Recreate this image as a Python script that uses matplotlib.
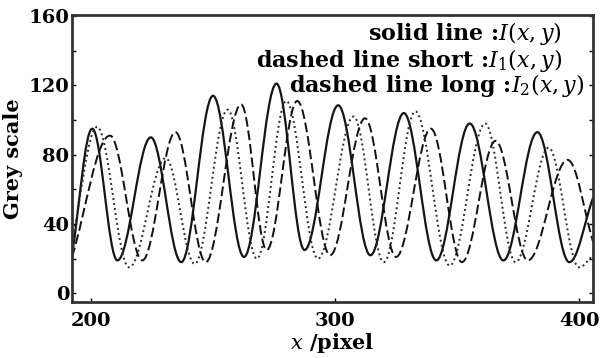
import matplotlib
matplotlib.use('Agg')
import matplotlib.pyplot as plt
from matplotlib.path import Path
from matplotlib.patches import PathPatch

plt.rcParams['font.family'] = ['DejaVu Serif']
plt.rcParams['mathtext.fontset'] = 'dejavuserif'

# turning points (peaks / troughs) of the three grey-scale profiles
i_x = [192.2, 200.5, 210.8, 224.5, 237.0, 250.0, 262.7, 276.0, 287.5,
       301.3, 314.5, 328.2, 341.5, 355.2, 369.0, 382.9, 396.0, 405.7]
i_y = [22, 95, 19, 90, 18, 114, 21, 121, 25,
       108.5, 22, 104, 19, 98, 19, 93, 18, 55]

i1_x = [192.2, 202.5, 215.6, 230.6, 242.5, 256.0, 268.0, 280.0, 293.0,
        307.6, 320.0, 332.9, 347.0, 361.5, 374.0, 387.5, 400.0, 405.7]
i1_y = [30, 96, 15, 78, 17, 106, 20, 111, 20,
        102, 18, 105, 16, 98, 18, 84, 15, 22]

i2_x = [192.2, 207.8, 221.0, 234.6, 247.0, 261.5, 272.0, 284.5, 298.0,
        312.3, 325.0, 339.3, 352.0, 365.8, 379.0, 395.3, 405.7]
i2_y = [21, 91, 19, 93, 18, 109, 25, 111, 22,
        101, 21, 95, 18, 88, 19, 77, 30]

legend_lines = ['solid line :$I(x,y)$',
                'dashed line short :$I_1(x,y)$',
                'dashed line long :$I_2(x,y)$']


def smooth_path(xs, ys):
    ''' cubic segments between turning points, flat at each extremum,
    following the chord at the two clipped ends '''
    verts = [(xs[0], ys[0])]
    codes = [Path.MOVETO]
    last = len(xs) - 1
    for i in range(1, len(xs)):
        x0, y0, x1, y1 = xs[i - 1], ys[i - 1], xs[i], ys[i]
        k = 0.36 * (x1 - x0)
        c0 = (x0 + k, y0) if i > 1 else (x0 + k, y0 + 0.36 * (y1 - y0))
        c1 = (x1 - k, y1) if i < last else (x1 - k, y1 - 0.36 * (y1 - y0))
        verts += [c0, c1, (x1, y1)]
        codes += [Path.CURVE4] * 3
    return Path(verts, codes)


fig = plt.figure(figsize=(6.06, 3.58), dpi=100)
ax = fig.add_axes([0.1188, 0.1564, 0.8597, 0.8017])

ax.add_patch(PathPatch(smooth_path(i_x, i_y), fill=False,
                       edgecolor='#151515', lw=1.6, ls='-'))
ax.add_patch(PathPatch(smooth_path(i1_x, i1_y), fill=False,
                       edgecolor='#2a2a2a', lw=1.4, ls=(0, (1, 1.6))))
ax.add_patch(PathPatch(smooth_path(i2_x, i2_y), fill=False,
                       edgecolor='#111111', lw=1.4, ls=(0, (5, 2))))

ax.set_xlim(192.2, 405.7)
ax.set_ylim(-5, 160.6)
ax.set_xticks([200, 300, 400])
ax.set_yticks([0, 40, 80, 120, 160])
ax.set_yticks([20, 60, 100, 140], minor=True)

ax.tick_params(axis='y', which='both', direction='in', length=3,
               width=1, right=True, pad=2, labelsize=14)
ax.tick_params(axis='x', direction='in', length=3, width=1,
               pad=7, labelsize=14)
for lbl in ax.get_xticklabels() + ax.get_yticklabels():
    lbl.set_fontweight('bold')
for spine in ax.spines.values():
    spine.set_linewidth(2)
    spine.set_color('#333333')

ax.set_xlabel('$x$ /pixel', fontsize=15, fontweight='bold', labelpad=1)
ax.set_ylabel('Grey scale', fontsize=15, fontweight='bold', labelpad=4)

ax.text(0.9405, 0.937, legend_lines[0], transform=ax.transAxes,
        ha='right', va='center', fontsize=16, fontweight='bold')
ax.text(0.9405, 0.843, legend_lines[1], transform=ax.transAxes,
        ha='right', va='center', fontsize=16, fontweight='bold')
ax.text(0.9846, 0.756, legend_lines[2], transform=ax.transAxes,
        ha='right', va='center', fontsize=16, fontweight='bold')

fig.savefig('out.png', dpi=100)
